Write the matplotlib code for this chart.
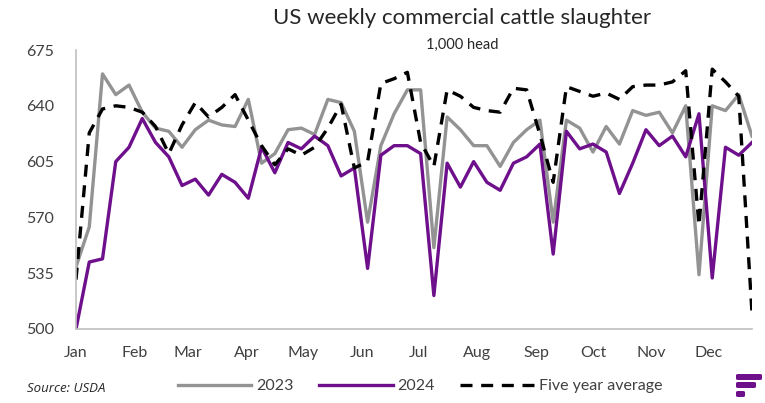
import numpy as np
import matplotlib
matplotlib.use("Agg")
import matplotlib.pyplot as plt
from matplotlib.patches import FancyBboxPatch

plt.rcParams['font.family'] = ['Lato', 'DejaVu Sans']

# weekly slaughter, 1,000 head (week 1..52)
weeks = np.arange(1, 53)
slaughter_2023 = [539, 564, 660, 647, 653, 636, 626, 624, 614, 625,
                  631, 628, 627, 644, 604, 610, 625, 626, 622, 644,
                  642, 624, 567, 615, 635, 650, 650, 551, 633, 625,
                  615, 615, 602, 617, 625, 631, 567, 631, 626, 611,
                  627, 616, 637, 634, 636, 623, 640, 534, 640, 637,
                  647, 621]
slaughter_2024 = [500, 542, 544, 605, 614, 632, 617, 608, 590, 594,
                  584, 597, 592, 582, 614, 598, 617, 613, 621, 615,
                  596, 601, 538, 609, 615, 615, 610, 521, 604, 589,
                  605, 592, 587, 604, 608, 616, 547, 624, 613, 616,
                  611, 585, 604, 625, 615, 621, 608, 635, 532, 614,
                  609, 617]
five_year_avg = [531, 623, 638, 640, 639, 636, 627, 610, 628, 642,
                 633, 639, 647, 631, 615, 603, 613, 609, 614, 626,
                 641, 601, 605, 654, 657, 661, 617, 602, 650, 646,
                 639, 637, 636, 651, 650, 622, 592, 652, 649, 646,
                 648, 644, 652, 653, 653, 655, 662, 565, 663, 655,
                 646, 510]

month_labels = ['Jan', 'Feb', 'Mar', 'Apr', 'May', 'Jun',
                'Jul', 'Aug', 'Sep', 'Oct', 'Nov', 'Dec']
month_days = [31, 28, 31, 30, 31, 30, 31, 31, 30, 31, 30, 31]
y_ticks = [500, 535, 570, 605, 640, 675]

PURPLE = '#6e0f8c'
GREY = '#939393'
AXIS = '#bfbfbf'
TEXT = '#404040'

days = (weeks - 1) * 7
month_starts = np.concatenate([[0], np.cumsum(month_days)[:-1]])

fig = plt.figure(figsize=(7.65, 4.03), dpi=100)
ax = fig.add_axes([76 / 765, 74 / 403, 676 / 765, 279 / 403])

ax.plot(days, slaughter_2023, color=GREY, lw=2.4, label='2023')
ax.plot(days, slaughter_2024, color=PURPLE, lw=2.4, label='2024')
ax.plot(days, five_year_avg, color='black', lw=2.4, dashes=(3.6, 2.6),
        label='Five year average')

ax.set_xlim(0, days[-1])
ax.set_ylim(500, 675)
ax.set_yticks(y_ticks)
ax.set_xticks(month_starts)
ax.set_xticklabels(month_labels)
ax.tick_params(length=0, labelsize=11.5, labelcolor=TEXT)
ax.tick_params(axis='y', pad=16)
ax.tick_params(axis='x', pad=12)

for side in ['top', 'right']:
    ax.spines[side].set_visible(False)
for side in ['left', 'bottom']:
    ax.spines[side].set_color(AXIS)
    ax.spines[side].set_linewidth(1.2)

fig.text(462 / 765, 1 - 18 / 403, 'US weekly commercial cattle slaughter',
         ha='center', va='center', fontsize=16, color='#262626',
         fontweight='normal')
fig.text(462 / 765, 1 - 45 / 403, '1,000 head', ha='center', va='center',
         fontsize=10.5, color='#262626')
fig.text(27 / 765, 1 - 388 / 403, 'Source: USDA', ha='left', va='center',
         fontsize=9.5, style='italic', color='#262626',
         family=['Open Sans', 'DejaVu Sans'])

fig.legend(loc='center', bbox_to_anchor=(420 / 765, 1 - 386 / 403),
           ncol=3, frameon=False, fontsize=11.5, handlelength=4.6,
           handletextpad=0.3, columnspacing=1.6, labelcolor=TEXT)

# small logo, bottom right
for y0, w in [(374, 26), (382, 20), (391, 9)]:
    fig.patches.append(FancyBboxPatch(
        (736 / 765, 1 - (y0 + 6) / 403), w / 765, 6 / 403,
        boxstyle='round,pad=0,rounding_size=0.003',
        transform=fig.transFigure, color=PURPLE, lw=0))

fig.savefig('out.png', dpi=100)
